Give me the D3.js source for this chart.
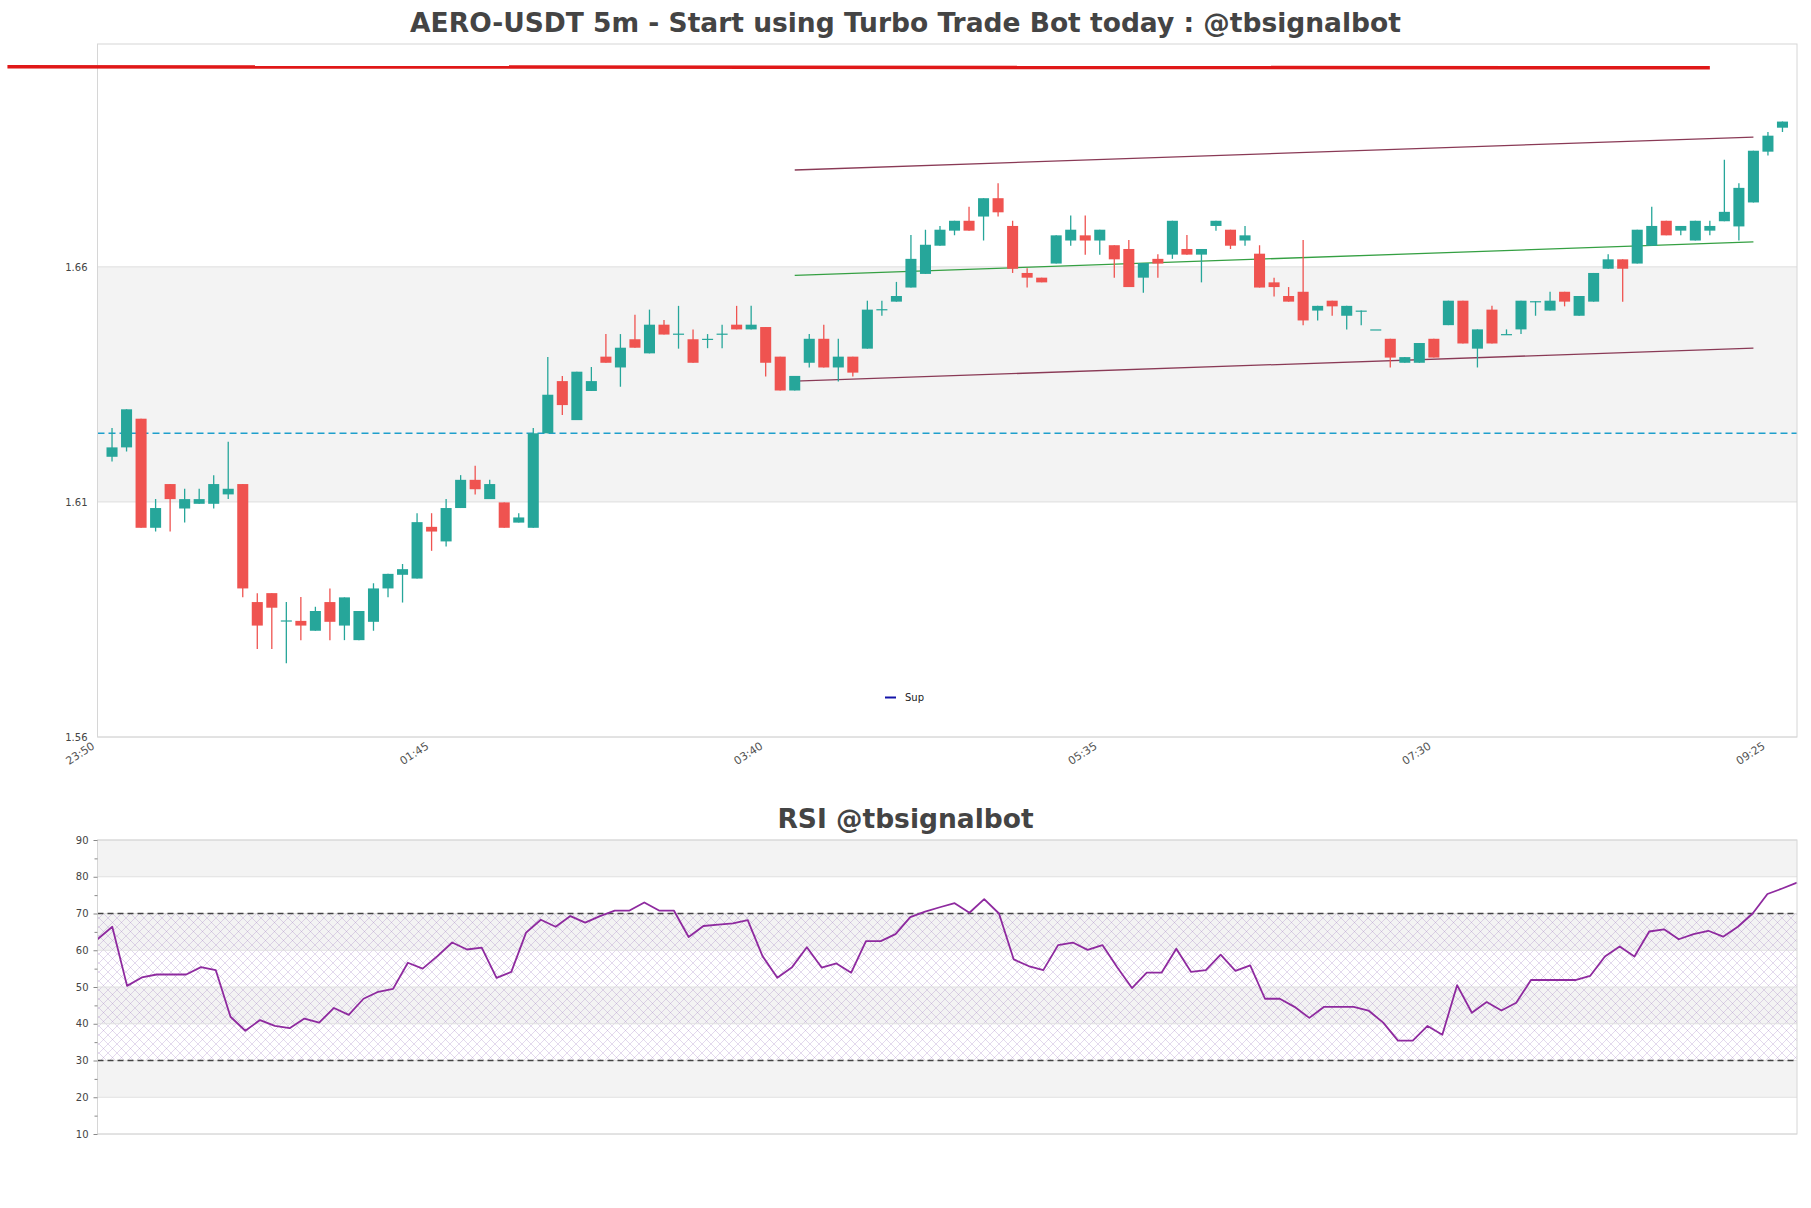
<!DOCTYPE html>
<html><head><meta charset="utf-8">
<script src="https://cdn.jsdelivr.net/npm/d3@7"></script>
<style>
body{margin:0;background:#fff;}
text{font-family:"DejaVu Sans",sans-serif;}
</style></head><body>
<svg id="c" width="1811" height="1208"></svg>
<script>
// ---------------- DATA ----------------
const chartTitle = "AERO-USDT 5m - Start using Turbo Trade Bot today : @tbsignalbot";
const rsiTitle = "RSI @tbsignalbot";
const timeTickLabels = ["23:50","01:45","03:40","05:35","07:30","09:25"];
const timeTickIndex = [0,23,46,69,92,115];
const priceTicks = [1.56,1.61,1.66];
const rsiTicks = [10,20,30,40,50,60,70,80,90];
const rsiMinorTicks = [15,25,35,45,55,65,75,85];
const rsiLevels = [30,70];
const legendLabels = ["Sup"];

// candles: index 1..116 (5-minute bars 23:55 .. 09:30)
const opens = [1.6196,1.6216,1.6277,1.6045,1.6138,1.6086,1.6096,1.6096,1.6116,1.6138,
1.5887,1.5906,1.5846,1.5847,1.5826,1.5887,1.5837,1.5806,1.5845,1.5916,
1.5945,1.5937,1.6047,1.6016,1.6087,1.6147,1.6106,1.6099,1.6056,1.6045,
1.6246,1.6357,1.6274,1.6336,1.6409,1.6386,1.6446,1.6416,1.6477,1.6456,
1.6446,1.6446,1.6456,1.6477,1.6467,1.6472,1.6409,1.6337,1.6396,1.6447,
1.6386,1.6409,1.6426,1.6508,1.6526,1.6556,1.6585,1.6645,1.6677,1.6698,
1.6707,1.6746,1.6687,1.6587,1.6577,1.6607,1.6656,1.6667,1.6656,1.6646,
1.6638,1.6577,1.6617,1.6626,1.6638,1.6626,1.6687,1.6679,1.6656,1.6628,
1.6567,1.6538,1.6547,1.6507,1.6528,1.6496,1.6506,1.6467,1.6447,1.6396,
1.6396,1.6447,1.6476,1.6528,1.6426,1.6509,1.6456,1.6467,1.6526,1.6507,
1.6547,1.6496,1.6526,1.6596,1.6616,1.6607,1.6645,1.6698,1.6677,1.6656,
1.6677,1.6697,1.6686,1.6737,1.6845,1.6896];
const highs = [1.6257,1.6297,1.6277,1.6106,1.6138,1.6128,1.6128,1.6157,1.6228,1.6138,
1.5906,1.5906,1.5887,1.5898,1.5877,1.5916,1.5897,1.5868,1.5927,1.5947,
1.5968,1.6076,1.6076,1.6106,1.6157,1.6177,1.6147,1.6099,1.6076,1.6257,
1.6408,1.6368,1.6377,1.6387,1.6457,1.6457,1.6498,1.6509,1.6487,1.6517,
1.6467,1.6457,1.6477,1.6517,1.6517,1.6472,1.6409,1.6368,1.6457,1.6477,
1.6447,1.6409,1.6528,1.6528,1.6568,1.6668,1.6679,1.6687,1.6698,1.6728,
1.6746,1.6778,1.6698,1.6597,1.6577,1.6667,1.6709,1.6709,1.6679,1.6646,
1.6657,1.6608,1.6627,1.6698,1.6668,1.6638,1.6698,1.6679,1.6687,1.6646,
1.6577,1.6557,1.6657,1.6517,1.6528,1.6517,1.6507,1.6467,1.6447,1.6408,
1.6438,1.6447,1.6528,1.6528,1.6467,1.6517,1.6467,1.6528,1.6527,1.6547,
1.6547,1.6538,1.6587,1.6627,1.6616,1.6679,1.6728,1.6698,1.6687,1.6698,
1.6698,1.6828,1.6778,1.6847,1.6887,1.6909];
const lows = [1.6186,1.6207,1.6045,1.6037,1.6037,1.6056,1.6096,1.6086,1.6106,1.5897,
1.5787,1.5787,1.5757,1.5806,1.5826,1.5806,1.5806,1.5806,1.5826,1.5897,
1.5886,1.5937,1.5996,1.6005,1.6087,1.6116,1.6106,1.6045,1.6056,1.6045,
1.6246,1.6285,1.6274,1.6336,1.6396,1.6345,1.6428,1.6416,1.6456,1.6426,
1.6396,1.6427,1.6427,1.6467,1.6467,1.6367,1.6337,1.6337,1.6386,1.6386,
1.6356,1.6367,1.6426,1.6496,1.6526,1.6556,1.6585,1.6645,1.6667,1.6677,
1.6656,1.6707,1.6587,1.6556,1.6567,1.6607,1.6645,1.6626,1.6626,1.6577,
1.6557,1.6545,1.6577,1.6617,1.6626,1.6567,1.6677,1.6638,1.6645,1.6556,
1.6537,1.6526,1.6476,1.6486,1.6496,1.6467,1.6476,1.6467,1.6386,1.6396,
1.6396,1.6407,1.6476,1.6437,1.6386,1.6437,1.6456,1.6457,1.6496,1.6507,
1.6516,1.6496,1.6526,1.6596,1.6526,1.6607,1.6645,1.6667,1.6667,1.6656,
1.6667,1.6697,1.6656,1.6737,1.6837,1.6887];
const closes = [1.6216,1.6297,1.6045,1.6087,1.6106,1.6106,1.6106,1.6138,1.6128,1.5916,
1.5837,1.5875,1.5848,1.5837,1.5868,1.5845,1.5897,1.5868,1.5916,1.5947,
1.5957,1.6057,1.6037,1.6087,1.6147,1.6127,1.6138,1.6045,1.6067,1.6246,
1.6328,1.6306,1.6377,1.6357,1.6396,1.6428,1.6428,1.6477,1.6456,1.6458,
1.6396,1.6447,1.6458,1.6467,1.6477,1.6396,1.6337,1.6368,1.6447,1.6386,
1.6409,1.6375,1.6509,1.6510,1.6538,1.6617,1.6647,1.6679,1.6698,1.6677,
1.6746,1.6716,1.6596,1.6577,1.6567,1.6667,1.6679,1.6656,1.6679,1.6616,
1.6557,1.6608,1.6607,1.6698,1.6626,1.6638,1.6698,1.6645,1.6667,1.6556,
1.6557,1.6526,1.6486,1.6517,1.6516,1.6517,1.6507,1.6467,1.6407,1.6408,
1.6438,1.6407,1.6528,1.6437,1.6467,1.6437,1.6457,1.6528,1.6527,1.6528,
1.6526,1.6538,1.6587,1.6616,1.6596,1.6679,1.6687,1.6667,1.6687,1.6698,
1.6687,1.6717,1.6768,1.6847,1.6879,1.6909];

const rsiValues = [63.0,66.4,50.3,52.6,53.4,53.4,53.4,55.4,54.6,41.9,
38.1,41.0,39.4,38.8,41.4,40.3,44.3,42.4,46.8,48.7,
49.5,56.6,55.0,58.4,62.1,60.2,60.7,52.5,54.1,64.8,
68.3,66.4,69.3,67.5,69.3,70.8,70.8,73.0,70.8,70.8,
63.6,66.6,67.0,67.3,68.2,58.4,52.5,55.4,60.8,55.3,
56.4,53.9,62.5,62.5,64.4,69.0,70.5,71.7,72.8,70.2,
73.9,70.0,57.5,55.7,54.6,61.4,62.1,60.1,61.4,55.4,
49.7,53.9,53.9,60.4,54.1,54.6,58.8,54.4,55.9,46.8,
46.8,44.6,41.6,44.6,44.6,44.6,43.6,40.3,35.4,35.4,
39.4,37.0,50.5,43.0,45.9,43.6,45.7,51.9,51.9,51.9,
51.9,53.0,58.3,61.0,58.3,65.1,65.7,63.0,64.4,65.3,
63.7,66.4,70.0,75.3,76.8,78.4];

const supportLevel = 1.6246;
const channelUpper = [[48,1.6806],[114,1.6876]];
const channelMid   = [[48,1.6582],[114,1.6653]];
const channelLower = [[48,1.6357],[114,1.6427]];
const topRedLine   = [[-6.2,1.70255],[111,1.70234]];

// ---------------- LAYOUT ----------------
const W = 1811, H = 1208;
const main = {l:97.5, r:1797, t:44, b:737};
const low  = {l:97.5, r:1797, t:840, b:1134};
const upColor = "#26a69a", downColor = "#ef5350";

const svg = d3.select("#c");
svg.append("rect").attr("width",W).attr("height",H).attr("fill","#fff");

const defs = svg.append("defs");
const pat = defs.append("pattern").attr("id","hatch").attr("patternUnits","userSpaceOnUse")
  .attr("width",9).attr("height",9);
pat.append("path").attr("d","M0,0L9,9M9,0L0,9M-1,8L1,10M8,-1L10,1")
  .attr("stroke","rgba(150,110,185,0.38)").attr("stroke-width",0.7).attr("fill","none");
defs.append("clipPath").attr("id","clipMain").append("rect")
  .attr("x",main.l).attr("y",main.t).attr("width",main.r-main.l).attr("height",main.b-main.t);

// scales
const x = d3.scaleLinear().domain([0,117]).range([main.l, main.r]);
const y = d3.scaleLinear().domain([1.56, 1.7074]).range([main.b, main.t]);
const xr = d3.scaleLinear().domain([0, rsiValues.length-1]).range([low.l, low.r]);
const yr = d3.scaleLinear().domain([10,90]).range([low.b, low.t]);
const step = x(1)-x(0);

// ---------- main panel ----------
const gm = svg.append("g");
for (let k=0;k<priceTicks.length;k++){
  const p0 = priceTicks[k], p1 = k+1<priceTicks.length ? priceTicks[k+1] : y.domain()[1];
  if (k%2===1){
    gm.append("rect").attr("x",main.l).attr("width",main.r-main.l)
      .attr("y",y(p1)).attr("height",y(p0)-y(p1)).attr("fill","#f3f3f3");
  }
}
gm.selectAll("line.grid").data(priceTicks).join("line")
  .attr("x1",main.l).attr("x2",main.r).attr("y1",d=>y(d)).attr("y2",d=>y(d))
  .attr("stroke","#dedede").attr("stroke-width",1);

const plot = gm.append("g").attr("clip-path","url(#clipMain)");
plot.append("line").attr("x1",main.l).attr("x2",main.r)
  .attr("y1",y(supportLevel)).attr("y2",y(supportLevel))
  .attr("stroke","#1e9fcc").attr("stroke-width",1.4).attr("stroke-dasharray","7,4");

const line = d3.line().x(d=>x(d[0])).y(d=>y(d[1]));
plot.append("path").attr("d",line(channelUpper)).attr("stroke","#8a3a56").attr("stroke-width",1.3).attr("fill","none");
plot.append("path").attr("d",line(channelLower)).attr("stroke","#8a3a56").attr("stroke-width",1.3).attr("fill","none");
plot.append("path").attr("d",line(channelMid)).attr("stroke","#35a043").attr("stroke-width",1.3).attr("fill","none");

const candles = opens.map((o,i)=>({i:i+1,o,h:highs[i],l:lows[i],c:closes[i]}));
const bw = step*0.76;
const cg = plot.selectAll("g.candle").data(candles).join("g");
cg.append("line")
  .attr("x1",d=>x(d.i)).attr("x2",d=>x(d.i))
  .attr("y1",d=>y(d.h)).attr("y2",d=>y(d.l))
  .attr("stroke",d=>d.c>=d.o?upColor:downColor).attr("stroke-width",1.3);
cg.append("rect")
  .attr("x",d=>x(d.i)-bw/2).attr("width",bw)
  .attr("y",d=>y(Math.max(d.o,d.c)))
  .attr("height",d=>Math.max(1.2, Math.abs(y(d.o)-y(d.c))))
  .attr("fill",d=>d.c>=d.o?upColor:downColor);

gm.append("rect").attr("x",main.l).attr("y",main.t).attr("width",main.r-main.l).attr("height",main.b-main.t)
  .attr("fill","none").attr("stroke","#d6d6d6").attr("stroke-width",1);

const yAxis = d3.axisLeft(y).tickValues(priceTicks).tickSize(0).tickPadding(10).tickFormat(d3.format(".2f"));
const yg = svg.append("g").attr("transform",`translate(${main.l},0)`).call(yAxis);
yg.select(".domain").remove();
yg.selectAll("text").attr("font-size",10).attr("fill","#444").attr("font-family","DejaVu Sans");

const xAxis = d3.axisBottom(x).tickValues(timeTickIndex).tickSize(0)
  .tickFormat((d,k)=>timeTickLabels[k]);
const xg = svg.append("g").attr("transform",`translate(0,${main.b})`).call(xAxis);
xg.select(".domain").remove();
xg.selectAll("text").attr("font-size",11).attr("fill","#555").attr("font-family","DejaVu Sans")
  .attr("text-anchor","end").attr("y",0).attr("dy","0.75em")
  .attr("transform","translate(-7,4) rotate(-33)");

const lg = svg.append("g").attr("transform","translate(885,697.5)");
lg.selectAll("line").data(legendLabels).join("line")
  .attr("x1",0).attr("x2",11).attr("y1",0).attr("y2",0).attr("stroke","#1414a8").attr("stroke-width",2);
lg.selectAll("text").data(legendLabels).join("text")
  .attr("x",20).attr("y",3.5).attr("font-size",10).attr("fill","#222").text(d=>d);

svg.append("path").attr("d",line(topRedLine)).attr("stroke","#e01818").attr("stroke-width",3.5).attr("fill","none");

svg.append("text").attr("x",W/2).attr("y",32).attr("text-anchor","middle")
  .attr("font-size",26.5).attr("font-weight","bold").attr("fill","#444").text(chartTitle);

// ---------- RSI panel ----------
const gr = svg.append("g");
for (let k=0;k<rsiTicks.length-1;k++){
  if (k%2===1){
    gr.append("rect").attr("x",low.l).attr("width",low.r-low.l)
      .attr("y",yr(rsiTicks[k+1])).attr("height",yr(rsiTicks[k])-yr(rsiTicks[k+1])).attr("fill","#f3f3f3");
  }
}
gr.append("rect").attr("x",low.l).attr("width",low.r-low.l)
  .attr("y",yr(rsiLevels[1])).attr("height",yr(rsiLevels[0])-yr(rsiLevels[1])).attr("fill","url(#hatch)");
gr.selectAll("line.grid").data(rsiTicks).join("line")
  .attr("x1",low.l).attr("x2",low.r).attr("y1",d=>yr(d)).attr("y2",d=>yr(d))
  .attr("stroke","#e0e0e0").attr("stroke-width",1);
gr.selectAll("line.lvl").data(rsiLevels).join("line")
  .attr("x1",low.l).attr("x2",low.r).attr("y1",d=>yr(d)).attr("y2",d=>yr(d))
  .attr("stroke","#444").attr("stroke-width",1.3).attr("stroke-dasharray","6,4");
gr.append("path").datum(rsiValues)
  .attr("d",d3.line().x((d,i)=>xr(i)).y(d=>yr(d)))
  .attr("fill","none").attr("stroke","#8e2a9f").attr("stroke-width",1.8).attr("stroke-linejoin","round");
gr.append("rect").attr("x",low.l).attr("y",low.t).attr("width",low.r-low.l).attr("height",low.b-low.t)
  .attr("fill","none").attr("stroke","#d6d6d6").attr("stroke-width",1);

const ryAxis = d3.axisLeft(yr).tickValues(rsiTicks).tickSize(4).tickPadding(5).tickFormat(d3.format("d"));
const ryg = svg.append("g").attr("transform",`translate(${low.l},0)`).call(ryAxis);
ryg.select(".domain").remove();
ryg.selectAll("line").attr("stroke","#888");
ryg.selectAll("text").attr("font-size",10).attr("fill","#444").attr("font-family","DejaVu Sans");
const rmAxis = d3.axisLeft(yr).tickValues(rsiMinorTicks).tickSize(3).tickFormat("");
const rmg = svg.append("g").attr("transform",`translate(${low.l},0)`).call(rmAxis);
rmg.select(".domain").remove();
rmg.selectAll("line").attr("stroke","#888");

svg.append("text").attr("x",W/2).attr("y",828).attr("text-anchor","middle")
  .attr("font-size",26.5).attr("font-weight","bold").attr("fill","#444").text(rsiTitle);
</script>
</body></html>
